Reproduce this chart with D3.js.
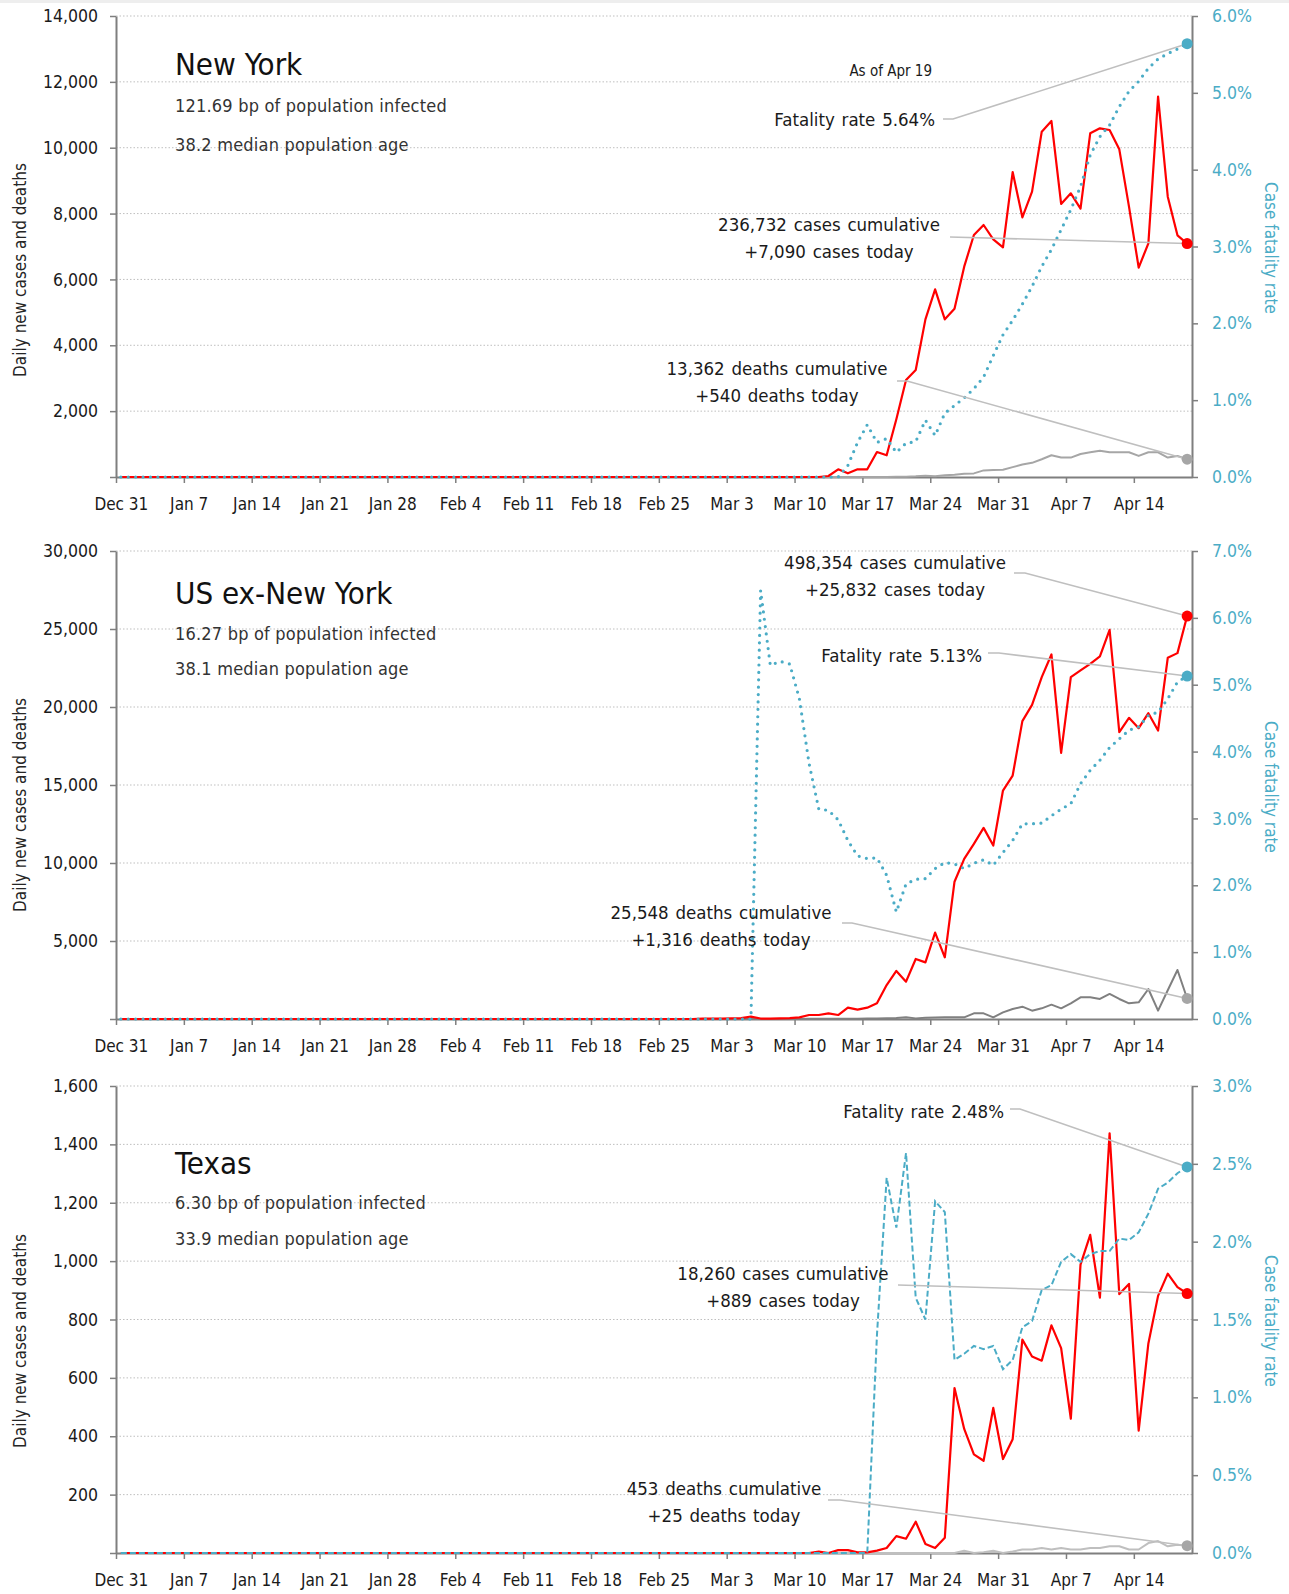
<!DOCTYPE html>
<html>
<head>
<meta charset="utf-8">
<script src="https://cdn.jsdelivr.net/npm/d3@7"></script>
<style>
  body { margin: 0; background: #fff; }
  svg text { font-family: 'DejaVu Sans Condensed', 'Liberation Sans Narrow', 'Liberation Sans', sans-serif; font-stretch: condensed; fill: #1a1a1a; }
</style>
</head>
<body>
<div id="chart"></div>
<script>
// categories: one point per day, Dec 31 2019 .. Apr 19 2020
var startDay = new Date(Date.UTC(2019, 11, 31));
var endDay = new Date(Date.UTC(2020, 3, 20));
var dates = d3.utcDay.range(startDay, endDay);
var weekTicks = d3.utcDay.range(startDay, endDay, 7);

var regions = ['New York', 'US ex-New York', 'Texas'];
var infectedBp = ['121.69', '16.27', '6.30'];
var medianAge = ['38.2', '38.1', '33.9'];
var cumCases = [236732, 498354, 18260];
var cumDeaths = [13362, 25548, 453];

// daily new cases / deaths, case fatality rate (%)
var nyCases = [
  0,0,0,0,0,0,0,0,0,0, 0,0,0,0,0,0,0,0,0,0, 0,0,0,0,0,0,0,0,0,0, 0,0,0,0,0,0,0,0,0,0,
  0,0,0,0,0,0,0,0,0,0, 0,0,0,0,0,0,0,0,0,0, 0,0,0,0,0,0,0,0,0,0, 0,0,0,
  30,234,112,234,234,759,659,1752,2946,3250,4788,5699,4788,5112,6388,7349,7653,7218,6975,
  9262,7886,8665,10487,10811,8291,8615,8149,10437,10589,10538,9951,8210,6357,7096,11550,8513,7339,7090
];
var nyDeaths = [
  0,0,0,0,0,0,0,0,0,0, 0,0,0,0,0,0,0,0,0,0, 0,0,0,0,0,0,0,0,0,0, 0,0,0,0,0,0,0,0,0,0,
  0,0,0,0,0,0,0,0,0,0, 0,0,0,0,0,0,0,0,0,0, 0,0,0,0,0,0,0,0,0,0, 0,0,0,0,0,0,0,0,0,0,
  5,10,20,40,20,50,70,100,110,200,210,220,300,380,430,540,660,590,590,700,750,800,750,750,
  750,640,750,750,590,640,540
];
var nyRate = [
  0,0,0,0,0,0,0,0,0,0, 0,0,0,0,0,0,0,0,0,0, 0,0,0,0,0,0,0,0,0,0, 0,0,0,0,0,0,0,0,0,0,
  0,0,0,0,0,0,0,0,0,0, 0,0,0,0,0,0,0,0,0,0, 0,0,0,0,0,0,0,0,0,0, 0,0,0,0,0,
  0.15,0.45,0.68,0.45,0.5,0.32,0.44,0.46,0.74,0.54,0.83,0.93,1.03,1.15,1.3,1.58,1.85,2.04,
  2.25,2.48,2.74,2.96,3.22,3.48,3.78,4.19,4.43,4.58,4.82,5.02,5.15,5.32,5.44,5.51,5.57,5.64
];
var usCases = [
  0,0,0,0,0,0,0,0,0,0, 0,0,0,0,0,0,0,0,0,0, 0,0,0,0,0,0,0,0,0,0, 0,0,0,0,0,0,0,0,0,0,
  0,0,0,0,0,0,0,0,0,0, 0,0,0,0,0,0,0,0,0,0,
  20,20,30,40,60,150,30,30,40,60,107,256,256,363,256,726,598,726,1004,2179,3077,2393,3846,
  3632,5534,3953,8800,10262,11225,12251,11118,14645,15607,19093,20140,21915,23369,17061,
  21915,22342,22770,23240,24951,18387,19306,18643,19605,18494,23155,23454,25832
];
var usDeaths = [
  0,0,0,0,0,0,0,0,0,0, 0,0,0,0,0,0,0,0,0,0, 0,0,0,0,0,0,0,0,0,0, 0,0,0,0,0,0,0,0,0,0,
  0,0,0,0,0,0,0,0,0,0, 0,0,0,0,0,0,0,0,0,0, 0,0,0,0,0,0,0,0,0,
  5,5,10,10,15,10,15,20,30,40,50,60,107,40,80,100,120,110,107,363,363,107,428,641,791,535,
  684,919,684,1005,1390,1390,1283,1604,1283,1005,1069,1924,535,1840,3143,1316
];
var usRate = [
  0,0,0,0,0,0,0,0,0,0, 0,0,0,0,0,0,0,0,0,0, 0,0,0,0,0,0,0,0,0,0, 0,0,0,0,0,0,0,0,0,0,
  0,0,0,0,0,0,0,0,0,0, 0,0,0,0,0,0,0,0,0,0, 0,0,0,0,0,0,
  6.41,5.29,5.35,5.31,4.79,3.82,3.14,3.12,2.98,2.67,2.44,2.40,2.41,2.15,1.60,2.02,2.09,2.10,
  2.25,2.34,2.32,2.25,2.33,2.38,2.30,2.49,2.67,2.92,2.92,2.93,3.04,3.14,3.22,3.52,3.72,3.87,
  4.06,4.19,4.32,4.37,4.54,4.59,4.79,5.04,5.13
];
var txCases = [
  0,0,0,0,0,0,0,0,0,0, 0,0,0,0,0,0,0,0,0,0, 0,0,0,0,0,0,0,0,0,0, 0,0,0,0,0,0,0,0,0,0,
  0,0,0,0,0,0,0,0,0,0, 0,0,0,0,0,0,0,0,0,0, 0,0,0,0,0,0,0,0,0,0, 0,
  0,5,0,10,10,2,2,8,17,58,49,107,31,17,52,565,425,338,316,497,322,390,731,673,659,780,702,
  460,988,1090,875,1438,887,922,419,718,881,957,911,889
];
var txDeaths = [
  0,0,0,0,0,0,0,0,0,0, 0,0,0,0,0,0,0,0,0,0, 0,0,0,0,0,0,0,0,0,0, 0,0,0,0,0,0,0,0,0,0,
  0,0,0,0,0,0,0,0,0,0, 0,0,0,0,0,0,0,0,0,0, 0,0,0,0,0,0,0,0,0,0, 0,0,0,0,0,0,0,0,0,0,
  0,0,0,0,0,0,
  0,8,0,3,8,0,5,12,12,17,12,17,12,12,17,17,23,23,12,12,34,41,23,28,25
];
var txRate = [
  0,0,0,0,0,0,0,0,0,0, 0,0,0,0,0,0,0,0,0,0, 0,0,0,0,0,0,0,0,0,0, 0,0,0,0,0,0,0,0,0,0,
  0,0,0,0,0,0,0,0,0,0, 0,0,0,0,0,0,0,0,0,0, 0,0,0,0,0,0,0,0,0,0, 0,0,0,0,0,0,0,0,
  1.4,2.41,2.09,2.57,1.64,1.50,2.26,2.19,1.24,1.28,1.33,1.31,1.33,1.18,1.24,1.45,1.49,1.69,
  1.72,1.87,1.92,1.87,1.92,1.94,1.94,2.02,2.01,2.06,2.18,2.34,2.38,2.44,2.48
];

var svgWidth = 1289, svgHeight = 1594;
var xLeft = 116, xRight = 1192;

var blue = '#4bacc6', red = '#ff0000', axisGrey = '#7f7f7f', gridGrey = '#bfbfbf';
var fmt = d3.format(',');

// per-panel layout (positions only)
var panels = [
  { cases: nyCases, deaths: nyDeaths, rate: nyRate, yMax: 14000, yStep: 2000, rMax: 6, rStep: 1,
    top: 16, bottom: 477, titleY: 75, sub1Y: 112, sub2Y: 151, leftTitleY: 270, rightTitleY: 248,
    deathColor: '#a6a6a6', rateDash: '0,7.4', rateWidth: 3.2, rateCap: 'round',
    casesAt: [829, 231], casesLead: [[950, 237]],
    deathsAt: [777, 375], deathsLead: [[897, 381], [907, 381]],
    rateAt: [935, 126], rateLead: [[943, 119], [953, 119]] },
  { cases: usCases, deaths: usDeaths, rate: usRate, yMax: 30000, yStep: 5000, rMax: 7, rStep: 1,
    top: 551, bottom: 1019, titleY: 604, sub1Y: 640, sub2Y: 675, leftTitleY: 805, rightTitleY: 787,
    deathColor: '#808080', rateDash: '0,7.4', rateWidth: 3.2, rateCap: 'round',
    casesAt: [895, 569], casesLead: [[1014, 573], [1025, 573]],
    deathsAt: [721, 919], deathsLead: [[842, 923], [852, 923]],
    rateAt: [982, 662], rateLead: [[988, 653], [999, 653]] },
  { cases: txCases, deaths: txDeaths, rate: txRate, yMax: 1600, yStep: 200, rMax: 3, rStep: 0.5,
    top: 1086, bottom: 1553, titleY: 1174, sub1Y: 1209, sub2Y: 1245, leftTitleY: 1341, rightTitleY: 1321,
    deathColor: '#bfbfbf', rateDash: '6,3', rateWidth: 2, rateCap: 'butt',
    casesAt: [783, 1280], casesLead: [[898, 1285]],
    deathsAt: [724, 1495], deathsLead: [[828, 1500], [840, 1500]],
    rateAt: [1004, 1118], rateLead: [[1010, 1109], [1020, 1109]] }
];

panels.forEach(function(p) {
  [p.cases, p.deaths, p.rate].forEach(function(s) {
    if (s.length !== dates.length) throw new Error('series length ' + s.length + ' != ' + dates.length);
  });
});

var svg = d3.select('#chart').append('svg')
  .attr('width', svgWidth)
  .attr('height', svgHeight);

svg.append('rect').attr('width', svgWidth).attr('height', 3).attr('fill', '#eeeeee');

var x = d3.scaleUtc().domain([startDay, endDay]).range([xLeft, xRight]);
var halfDay = (x(dates[1]) - x(dates[0])) / 2;
function xPos(i) { return x(dates[i]) + halfDay; }

function styleAxis(axisG, size, color) {
  axisG.select('.domain').attr('stroke', axisGrey).attr('stroke-width', 2);
  axisG.selectAll('.tick line').attr('stroke', axisGrey).attr('stroke-width', 1.5);
  axisG.selectAll('.tick text')
    .attr('font-size', size)
    .style('fill', color);
  axisG.attr('font-family', null);
}

panels.forEach(function(p, k) {
  var g = svg.append('g');
  var yL = d3.scaleLinear().domain([0, p.yMax]).range([p.bottom, p.top]);
  var yR = d3.scaleLinear().domain([0, p.rMax]).range([p.bottom, p.top]);
  var leftTicks = d3.range(0, p.yMax + 1, p.yStep);
  var rightTicks = d3.range(0, p.rMax + 1e-9, p.rStep);

  // dotted gridlines
  g.append('g').selectAll('line')
    .data(leftTicks.filter(function(d) { return d > 0; }))
    .enter().append('line')
    .attr('x1', xLeft).attr('x2', xRight)
    .attr('y1', function(d) { return yL(d); })
    .attr('y2', function(d) { return yL(d); })
    .attr('stroke', gridGrey)
    .attr('stroke-width', 1)
    .attr('stroke-dasharray', '1.5,2');

  // axes
  var leftAxis = g.append('g')
    .attr('transform', 'translate(' + xLeft + ',0)')
    .call(d3.axisLeft(yL).tickValues(leftTicks).tickSize(6).tickSizeOuter(0).tickPadding(12)
      .tickFormat(function(d) { return d ? fmt(d) : ''; }));
  styleAxis(leftAxis, 17.5, '#1a1a1a');

  var rightAxis = g.append('g')
    .attr('transform', 'translate(' + xRight + ',0)')
    .call(d3.axisRight(yR).tickValues(rightTicks).tickSize(6).tickSizeOuter(0).tickPadding(14)
      .tickFormat(function(d) { return d.toFixed(1) + '%'; }));
  styleAxis(rightAxis, 17.5, blue);

  var bottomAxis = g.append('g')
    .attr('transform', 'translate(0,' + p.bottom + ')')
    .call(d3.axisBottom(x).tickValues(weekTicks).tickSize(6).tickSizeOuter(0).tickPadding(15)
      .tickFormat(d3.utcFormat('%b %-d')));
  styleAxis(bottomAxis, 17, '#1a1a1a');
  bottomAxis.selectAll('.tick text').attr('x', halfDay);

  // axis titles
  g.append('text')
    .attr('transform', 'translate(26,' + p.leftTitleY + ') rotate(-90)')
    .attr('text-anchor', 'middle')
    .attr('font-size', 17)
    .style('fill', '#262626')
    .text('Daily new cases and deaths');

  g.append('text')
    .attr('transform', 'translate(1265,' + p.rightTitleY + ') rotate(90)')
    .attr('text-anchor', 'middle')
    .attr('font-size', 17)
    .style('fill', blue)
    .text('Case fatality rate');

  // series
  var lineL = d3.line().x(function(d, i) { return xPos(i); }).y(function(d) { return yL(d); });
  var lineR = d3.line().x(function(d, i) { return xPos(i); }).y(function(d) { return yR(d); });

  g.append('path').datum(p.deaths)
    .attr('d', lineL).attr('fill', 'none')
    .attr('stroke', p.deathColor).attr('stroke-width', 2).attr('stroke-linejoin', 'round');

  g.append('path').datum(p.cases)
    .attr('d', lineL).attr('fill', 'none')
    .attr('stroke', red).attr('stroke-width', 2.2).attr('stroke-linejoin', 'round');

  g.append('path').datum(p.rate)
    .attr('d', lineR).attr('fill', 'none')
    .attr('stroke', blue).attr('stroke-width', p.rateWidth)
    .attr('stroke-dasharray', p.rateDash).attr('stroke-linecap', p.rateCap);

  // titles
  g.append('text').attr('x', 175).attr('y', p.titleY)
    .attr('font-size', 31)
    .style('fill', '#111').text(regions[k]);
  g.append('text').attr('x', 175).attr('y', p.sub1Y)
    .attr('font-size', 18).attr('letter-spacing', 0.2)
    .style('fill', '#333').text(infectedBp[k] + ' bp of population infected');
  g.append('text').attr('x', 175).attr('y', p.sub2Y)
    .attr('font-size', 18).attr('letter-spacing', 0.2)
    .style('fill', '#333').text(medianAge[k] + ' median population age');

  // end-of-series annotations
  var last = dates.length - 1;
  var ends = {
    cases: [xPos(last), yL(p.cases[last])],
    deaths: [xPos(last), yL(p.deaths[last])],
    rate: [xPos(last), yR(p.rate[last])]
  };

  function leader(pts, end) {
    g.append('path')
      .attr('d', d3.line()(pts.concat([end])))
      .attr('fill', 'none')
      .attr('stroke', gridGrey)
      .attr('stroke-width', 1.6);
  }
  function label(lines, at, anchor) {
    var t = g.append('text')
      .attr('text-anchor', anchor)
      .attr('font-size', 18.5)
      .attr('word-spacing', 1.5);
    lines.forEach(function(s, j) {
      t.append('tspan').attr('x', at[0]).attr('y', at[1] + j * 26.5).text(s);
    });
  }

  leader(p.casesLead, ends.cases);
  leader(p.deathsLead, ends.deaths);
  leader(p.rateLead, ends.rate);

  label([fmt(cumCases[k]) + ' cases cumulative', '+' + fmt(p.cases[last]) + ' cases today'], p.casesAt, 'middle');
  label([fmt(cumDeaths[k]) + ' deaths cumulative', '+' + fmt(p.deaths[last]) + ' deaths today'], p.deathsAt, 'middle');
  label(['Fatality rate ' + p.rate[last].toFixed(2) + '%'], p.rateAt, 'end');

  g.append('circle').attr('cx', ends.deaths[0]).attr('cy', ends.deaths[1]).attr('r', 5.5).attr('fill', '#a6a6a6');
  g.append('circle').attr('cx', ends.cases[0]).attr('cy', ends.cases[1]).attr('r', 5.5).attr('fill', red);
  g.append('circle').attr('cx', ends.rate[0]).attr('cy', ends.rate[1]).attr('r', 5.5).attr('fill', blue);

  if (k === 0) {
    g.append('text').attr('x', 932).attr('y', 76)
      .attr('text-anchor', 'end')
      .attr('font-size', 15)
      .text('As of Apr 19');
  }
});
</script>
</body>
</html>
